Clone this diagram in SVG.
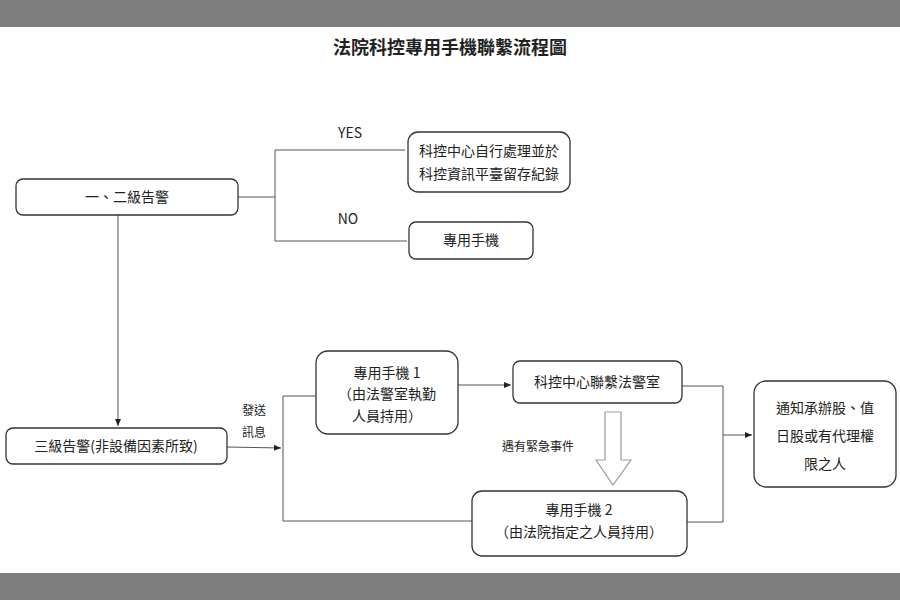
<svg xmlns="http://www.w3.org/2000/svg" width="900" height="600" viewBox="0 0 900 600">
<defs>
<style>
.box{fill:#fff;stroke:#333;stroke-width:1.3}
.t{font-family:"Noto Sans CJK TC","Noto Sans",sans-serif;font-size:14px;fill:#222;text-anchor:middle}
.s{font-size:12px}
.ln{fill:none;stroke:#555;stroke-width:1}
</style>
<marker id="ah" markerWidth="8" markerHeight="8" refX="7" refY="4" orient="auto" markerUnits="userSpaceOnUse"><path d="M0,1 L7,4 L0,7 Z" fill="#222"/></marker>
</defs>
<rect width="900" height="600" fill="#fff"/>
<rect width="900" height="27" fill="#7f7f7f"/>
<rect y="573" width="900" height="27" fill="#7f7f7f"/>
<text x="450" y="54" class="t" style="font-size:18px;font-weight:bold">法院科控專用手機聯繫流程圖</text>
<g id="connectors">
<path class="ln" d="M238,197 H275 M275,150 V241 M275,150 H405 M275,241 H407"/>
<path class="ln" d="M118,215 V426" marker-end="url(#ah)"/>
<path class="ln" d="M227,447 L281,448" marker-end="url(#ah)"/>
<path class="ln" d="M283,396 V521 M283,396 H316 M283,521 H472"/>
<path class="ln" d="M458,385 H511" marker-end="url(#ah)"/>
<path class="ln" d="M682,386 H723 V522 H687"/>
<path class="ln" d="M723,435 H752" marker-end="url(#ah)"/>
<path d="M605,412 H621 V460 H631 L613,485 L596,460 H605 Z" fill="#fff" stroke="#999" stroke-width="1.2"/>
<text x="350" y="138" class="t">YES</text>
<text x="348" y="224" class="t">NO</text>
<text x="254" y="415" class="t s">發送</text>
<text x="254" y="437" class="t s">訊息</text>
<text x="538" y="451" class="t s">遇有緊急事件</text>
</g>
<g id="n1"><rect class="box" x="16" y="179" width="222" height="36" rx="7"/><text x="127" y="202" class="t">一、二級告警</text></g>
<g id="n2"><rect class="box" x="408" y="132" width="162" height="60" rx="10"/><text x="489" y="156" class="t">科控中心自行處理並於</text><text x="489" y="179" class="t">科控資訊平臺留存紀錄</text></g>
<g id="n3"><rect class="box" x="409" y="222" width="124" height="37" rx="7"/><text x="471" y="245" class="t">專用手機</text></g>
<g id="n4"><rect class="box" x="6" y="428" width="221" height="36" rx="7"/><text x="116" y="451" class="t">三級告警(非設備因素所致)</text></g>
<g id="n5"><rect class="box" x="316" y="351" width="142" height="83" rx="12"/><text x="387" y="378" class="t">專用手機 1</text><text x="387" y="399" class="t">（由法警室執勤</text><text x="387" y="421" class="t">人員持用）</text></g>
<g id="n6"><rect class="box" x="513" y="361" width="169" height="42" rx="7"/><text x="597" y="387" class="t">科控中心聯繫法警室</text></g>
<g id="n7"><rect class="box" x="472" y="491" width="215" height="65" rx="10"/><text x="579" y="515" class="t">專用手機 2</text><text x="579" y="537" class="t">（由法院指定之人員持用）</text></g>
<g id="n8"><rect class="box" x="754" y="381" width="142" height="106" rx="12"/><text x="825" y="413" class="t">通知承辦股、值</text><text x="825" y="441" class="t">日股或有代理權</text><text x="825" y="469" class="t">限之人</text></g>
</svg>
